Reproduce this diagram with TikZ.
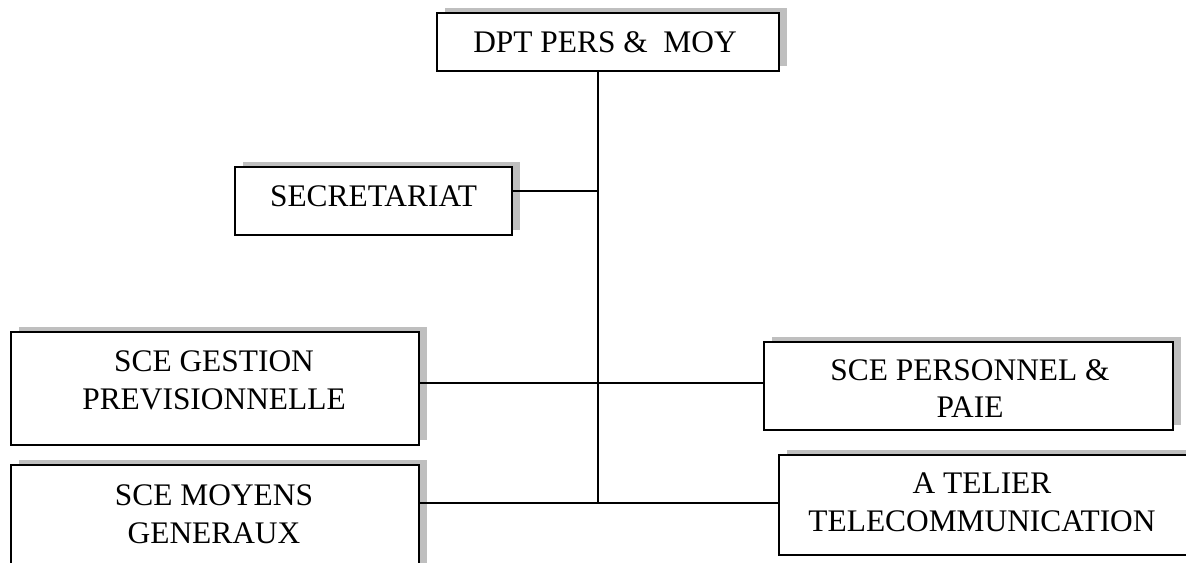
\documentclass[tikz,border=0pt]{standalone}
\usepackage{fontspec}
\setmainfont{Liberation Serif}
\usetikzlibrary{shadows}
\definecolor{shadegray}{RGB}{191,191,191}
\begin{document}
\begin{tikzpicture}[x=0.75pt,y=-0.75pt,
  unitbox/.style={draw=black, line width=1.5pt, fill=white, inner sep=0pt,
    drop shadow={shadow xshift=6pt, shadow yshift=4.1pt, fill=shadegray, opacity=1}},
  boxtext/.style={inner sep=0pt, align=center,
    font=\fontsize{23.55pt}{28.3pt}\selectfont},
  link/.style={draw=black, line width=1.5pt}]

% page frame
\clip (0,0) rectangle (1186,563);

% unit boxes
\node[unitbox, minimum width=256.5pt, minimum height=43.5pt] (dpt) at (608,42) {};
\node[unitbox, minimum width=207.75pt, minimum height=51pt] (sec) at (373.5,201) {};
\node[unitbox, minimum width=306pt, minimum height=84.75pt] (gest) at (215,388.5) {};
\node[unitbox, minimum width=306.75pt, minimum height=66pt] (pers) at (968.5,386) {};
\node[unitbox, minimum width=306pt, minimum height=86.25pt] (moy) at (215,522.5) {};
\node[unitbox, minimum width=312pt, minimum height=75pt] (atel) at (987,505) {};

% box captions
\node[boxtext] (dpt-t) at (605,42.5) {DPT PERS \&\ \ MOY};
\node[boxtext] (sec-t) at (373.5,196.5) {SECRETARIAT};
\node[boxtext] (gest-t) at (214,380.5) {SCE GESTION\\PREVISIONNELLE};
\node[boxtext] (pers-t) at (970,388.5) {SCE PERSONNEL \&\\PAIE};
\node[boxtext] (moy-t) at (214,514) {SCE MOYENS\\GENERAUX};
\node[boxtext] (atel-t) at (982,502) {A TELIER\\TELECOMMUNICATION};

% junctions on the trunk
\coordinate (jsec) at (598,191);
\coordinate (jmid) at (598,383);
\coordinate (jlow) at (598,503);

% connectors
\draw[link] (dpt.south -| jsec) -- (jlow);
\draw[link] (sec.east |- jsec) -- (jsec);
\draw[link] (gest.east |- jmid) -- (pers.west |- jmid);
\draw[link] (moy.east |- jlow) -- (atel.west |- jlow);
\end{tikzpicture}
\end{document}
